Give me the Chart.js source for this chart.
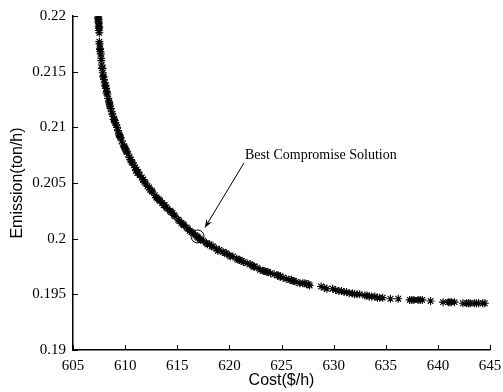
<!DOCTYPE html>
<html>
<head>
<meta charset="utf-8">
<script src="https://cdn.jsdelivr.net/npm/chart.js@4"></script>
<style>
  html, body { margin: 0; padding: 0; background: #fff; }
  #wrap { width: 503px; height: 392px; }
</style>
</head>
<body>
<div id="wrap"><canvas id="paretoChart" width="503" height="392"></canvas></div>
<script>
// Pareto front points
const costs = [
    607.43, 607.45, 607.44, 607.48, 607.47, 607.50, 607.49, 607.52, 607.53, 607.55,
    607.60, 607.63, 607.70, 607.72, 607.76, 607.80, 607.86, 607.90, 607.97, 608.05,
    608.10, 608.18, 608.25, 608.30, 608.38, 608.45, 608.52, 608.60, 608.70, 608.78,
    608.86, 608.95, 609.05, 609.15, 609.22, 609.32, 609.45, 609.55, 609.67, 609.78,
    609.90, 610.02, 610.15, 610.30, 610.42, 610.55, 610.70, 610.85, 610.95, 611.10,
    611.25, 611.40, 611.60, 611.75, 611.95, 612.15, 612.40, 612.60, 612.85, 613.10,
    613.35, 613.55, 613.80, 614.05, 614.30, 614.55, 614.80, 615.10, 615.40, 615.65,
    615.90, 616.20, 616.50, 616.75, 617.00, 617.25, 617.50, 617.80, 618.10, 618.45,
    618.75, 619.05, 619.40, 619.70, 620.00, 620.35, 620.70, 621.00, 621.35, 621.70,
    622.00, 622.30, 622.65, 622.95, 623.25, 623.60, 623.95, 624.30, 624.60, 624.85,
    625.15, 625.45, 625.80, 626.10, 626.40, 626.75, 627.05, 627.40, 627.70, 628.80,
    629.10, 629.35, 629.90, 630.50, 630.75, 631.00, 631.25, 631.50, 632.00, 632.25,
    632.50, 633.00, 633.40, 633.65, 633.95, 634.20, 634.70, 635.45, 636.20, 637.30,
    637.70, 638.10, 638.50, 639.30, 640.50, 641.00, 641.30, 641.60, 642.40, 642.75,
    643.10, 643.50, 643.90, 644.30,
    // second pass, slightly off the line
    607.58, 607.82, 608.12, 608.48, 608.90, 609.40, 609.95, 610.50, 611.05, 611.70,
    612.30, 613.00, 613.70, 614.40, 615.20, 616.00, 616.90, 617.90, 618.90, 620.10,
    621.20, 622.40, 623.70, 624.90, 626.20, 627.60,
    // third pass
    607.40, 607.46, 607.51, 607.66, 607.93, 608.22, 608.56, 609.00, 609.50, 610.08,
    610.62, 611.18, 611.85, 612.55, 613.25, 613.95, 614.70, 615.55, 616.35, 617.15,
    618.30, 619.55, 620.85, 622.15, 623.40, 624.70, 625.95, 627.25, 630.20, 631.80,
    633.20, 634.40, 637.50, 638.30, 641.15, 642.95, 643.70, 644.50
];
const emissions = [
    0.2199, 0.2197, 0.2195, 0.2193, 0.2191, 0.2189, 0.2187, 0.2185, 0.2177, 0.2175,
    0.2171, 0.2168, 0.2162, 0.2160, 0.2156, 0.2153, 0.2149, 0.2146, 0.2143, 0.2140,
    0.2138, 0.2135, 0.2132, 0.2130, 0.2126, 0.2123, 0.2120, 0.2117, 0.2114, 0.2112,
    0.2110, 0.2107, 0.2104, 0.2102, 0.2100, 0.2097, 0.2093, 0.2091, 0.2088, 0.2085,
    0.2083, 0.2081, 0.2078, 0.2076, 0.2073, 0.2071, 0.2068, 0.2066, 0.2064, 0.2062,
    0.2060, 0.2057, 0.2055, 0.2053, 0.2050, 0.2047, 0.2044, 0.2042, 0.2039, 0.2036,
    0.2034, 0.2032, 0.2030, 0.2027, 0.2025, 0.2023, 0.2020, 0.2017, 0.2014, 0.2012,
    0.2010, 0.2007, 0.2005, 0.2003, 0.2001, 0.1999, 0.1998, 0.1996, 0.1995, 0.1993,
    0.1991, 0.1990, 0.1988, 0.1987, 0.1985, 0.1984, 0.1982, 0.1981, 0.1979, 0.1978,
    0.1977, 0.1975, 0.1974, 0.1972, 0.1971, 0.1970, 0.1969, 0.1968, 0.1967, 0.1966,
    0.1965, 0.1964, 0.1963, 0.1962, 0.1961, 0.1960, 0.1960, 0.1959, 0.1958, 0.1957,
    0.1956, 0.1955, 0.1955, 0.1953, 0.1953, 0.1952, 0.1952, 0.1951, 0.1950, 0.1950,
    0.1950, 0.1949, 0.1948, 0.1948, 0.1948, 0.1947, 0.1947, 0.1946, 0.1946, 0.1945,
    0.1945, 0.1945, 0.1945, 0.1944, 0.1943, 0.1943, 0.1943, 0.1943, 0.1942, 0.1942,
    0.1942, 0.1942, 0.1942, 0.1942,
    0.2170, 0.2153, 0.2137, 0.2122, 0.2107, 0.2094, 0.2082, 0.2071, 0.2061, 0.2053,
    0.2046, 0.2037, 0.2030, 0.2024, 0.2016, 0.2009, 0.2002, 0.1995, 0.1989, 0.1984,
    0.1980, 0.1975, 0.1970, 0.1966, 0.1962, 0.1959,
    0.2198, 0.2194, 0.2190, 0.2166, 0.2145, 0.2131, 0.2119, 0.2106, 0.2092, 0.2079,
    0.2069, 0.2059, 0.2051, 0.2043, 0.2035, 0.2028, 0.2021, 0.2013, 0.2006, 0.2000,
    0.1993, 0.1987, 0.1981, 0.1976, 0.1971, 0.1967, 0.1963, 0.1960, 0.1954, 0.1951,
    0.1949, 0.1947, 0.1945, 0.1945, 0.1943, 0.1942, 0.1942, 0.1942
];

const xTicks = [605, 610, 615, 620, 625, 630, 635, 640, 645];
const yTicks = [0.19, 0.195, 0.2, 0.205, 0.21, 0.215, 0.22];
const yTickLabels = ['0.19', '0.195', '0.2', '0.205', '0.21', '0.215', '0.22'];

// best compromise point and where its label sits
const bestPoint = { x: 616.95, y: 0.2002 };
const labelText = 'Best Compromise Solution';
const labelPos = { x: 621.5, y: 0.2072 };
const arrowFrom = { x: 621.4, y: 0.2068 };
const arrowTo = { x: 617.66, y: 0.2010 };

const points = costs.map((c, i) => ({ x: c, y: emissions[i] }));

// inward ticks, circle, arrow and text
const annotatePlugin = {
    id: 'annotate',
    afterDatasetsDraw(chart) {
        const ctx = chart.ctx;
        const xs = chart.scales.x, ys = chart.scales.y;
        const area = chart.chartArea;
        ctx.save();
        ctx.strokeStyle = '#000';
        ctx.lineWidth = 1;
        xTicks.forEach(v => {
            const px = Math.round(xs.getPixelForValue(v)) + 0.5;
            ctx.beginPath();
            ctx.moveTo(px, area.bottom);
            ctx.lineTo(px, area.bottom - 5);
            ctx.stroke();
        });
        yTicks.forEach(v => {
            const py = Math.round(ys.getPixelForValue(v)) + 0.5;
            ctx.beginPath();
            ctx.moveTo(area.left, py);
            ctx.lineTo(area.left + 5, py);
            ctx.stroke();
        });

        // circle round the best point
        const cx = xs.getPixelForValue(bestPoint.x), cy = ys.getPixelForValue(bestPoint.y);
        ctx.beginPath();
        ctx.arc(cx, cy, 6.5, 0, Math.PI * 2);
        ctx.stroke();

        // arrow
        const x1 = xs.getPixelForValue(arrowFrom.x), y1 = ys.getPixelForValue(arrowFrom.y);
        const x2 = xs.getPixelForValue(arrowTo.x), y2 = ys.getPixelForValue(arrowTo.y);
        ctx.beginPath();
        ctx.moveTo(x1, y1);
        ctx.lineTo(x2, y2);
        ctx.stroke();
        const ang = Math.atan2(y2 - y1, x2 - x1);
        const hl = 9, hw = 0.38;
        ctx.beginPath();
        ctx.moveTo(x2, y2);
        ctx.lineTo(x2 - hl * Math.cos(ang - hw), y2 - hl * Math.sin(ang - hw));
        ctx.lineTo(x2 - hl * 0.6 * Math.cos(ang), y2 - hl * 0.6 * Math.sin(ang));
        ctx.lineTo(x2 - hl * Math.cos(ang + hw), y2 - hl * Math.sin(ang + hw));
        ctx.closePath();
        ctx.fillStyle = '#000';
        ctx.fill();

        ctx.font = '14px "Liberation Serif", "Times New Roman", serif';
        ctx.textBaseline = 'alphabetic';
        ctx.fillText(labelText, xs.getPixelForValue(labelPos.x), ys.getPixelForValue(labelPos.y));
        ctx.restore();
    }
};

const ctx = document.getElementById('paretoChart').getContext('2d');
const paretoChart = new Chart(ctx, {
    type: 'scatter',
    data: {
        datasets: [{
            label: 'Pareto front',
            data: points,
            pointStyle: 'star',
            pointRadius: 4,
            pointBorderWidth: 1.1,
            borderColor: '#000',
            backgroundColor: '#000'
        }]
    },
    options: {
        responsive: false,
        animation: false,
        layout: { padding: { top: 15, right: 13, left: 0, bottom: 0 } },
        plugins: {
            legend: { display: false },
            tooltip: { enabled: false }
        },
        scales: {
            x: {
                type: 'linear',
                min: 605,
                max: 645,
                afterBuildTicks: scale => { scale.ticks = xTicks.map(v => ({ value: v })); },
                afterFit: scale => {
                    scale.height = 42;
                    scale.paddingLeft = 0;
                    scale.paddingRight = 0;
                },
                grid: { display: false, drawTicks: false },
                border: { display: true, color: '#000', width: 1.5 },
                ticks: {
                    color: '#000',
                    padding: 7,
                    maxRotation: 0,
                    autoSkip: false,
                    font: { family: '"Liberation Serif", "Times New Roman", serif', size: 15 },
                    callback: v => String(v)
                },
                title: {
                    display: true,
                    text: 'Cost($/h)',
                    color: '#000',
                    padding: { top: 0, bottom: 2 },
                    font: { family: '"Liberation Sans", Arial, sans-serif', size: 16 }
                }
            },
            y: {
                type: 'linear',
                min: 0.19,
                max: 0.22,
                afterBuildTicks: scale => { scale.ticks = yTicks.map(v => ({ value: v })); },
                afterFit: scale => { scale.width = 73; },
                grid: { display: false, drawTicks: false },
                border: { display: true, color: '#000', width: 1.5 },
                ticks: {
                    color: '#000',
                    padding: 7,
                    autoSkip: false,
                    font: { family: '"Liberation Serif", "Times New Roman", serif', size: 15 },
                    callback: (v, i) => yTickLabels[i]
                },
                title: {
                    display: true,
                    text: 'Emission(ton/h)',
                    color: '#000',
                    padding: { top: 8, bottom: 8 },
                    font: { family: '"Liberation Sans", Arial, sans-serif', size: 16 }
                }
            }
        }
    },
    plugins: [annotatePlugin]
});
</script>
</body>
</html>
